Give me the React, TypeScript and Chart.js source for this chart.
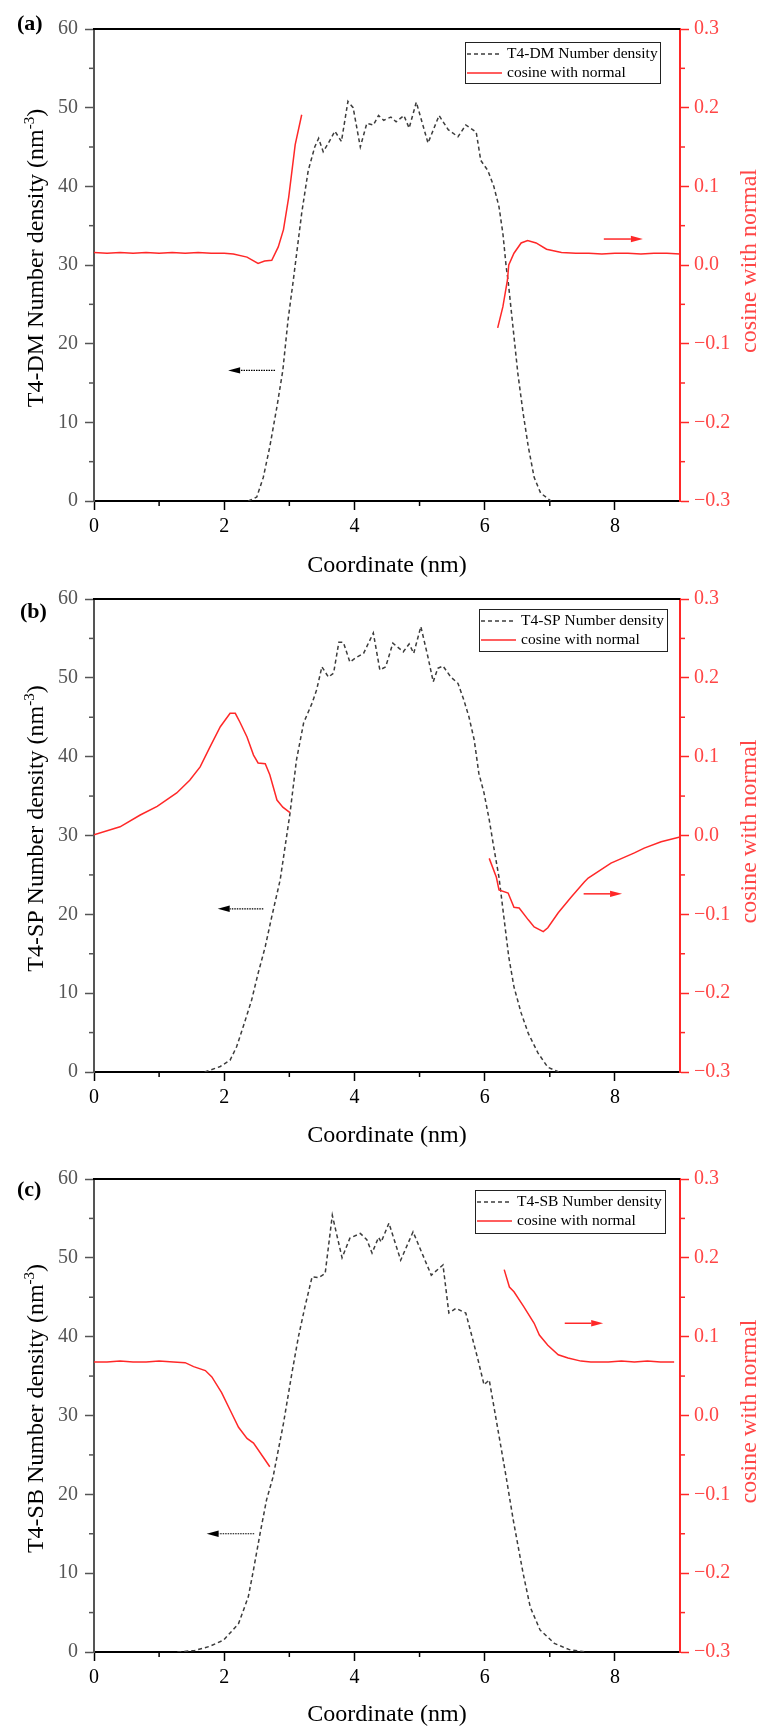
import React, { useEffect, useRef } from 'react';
import { Chart, registerables } from 'chart.js';

Chart.register(...registerables);

const SERIF = '"Liberation Serif", "Times New Roman", Times, serif';
const RED = 'rgb(255,40,40)';
const RED_TEXT = 'rgb(255,70,70)';
const DENS_COLOR = '#3c3c3c';

// ---- tick values ----
const xTicks = [0, 2, 4, 6, 8];
const xMinorTicks = [1, 3, 5, 7];
const yTicks = [0, 10, 20, 30, 40, 50, 60];
const yMinorTicks = [5, 15, 25, 35, 45, 55];
const y2Ticks = [-0.3, -0.2, -0.1, 0, 0.1, 0.2, 0.3];
const y2MinorTicks = [-0.25, -0.15, -0.05, 0.05, 0.15, 0.25];

// ---- panel (a) T4-DM ----
const aDensX = [2.37, 2.5, 2.6, 2.7, 2.81, 2.9, 2.98, 3.06, 3.19, 3.29, 3.39, 3.45, 3.52, 3.6, 3.7, 3.8, 3.9, 3.98, 4.09, 4.19, 4.29, 4.37, 4.45, 4.56, 4.64, 4.76, 4.84, 4.95, 5.13, 5.3, 5.44, 5.59, 5.71, 5.87, 5.94, 6.05, 6.14, 6.22, 6.28, 6.33, 6.36, 6.44, 6.51, 6.59, 6.67, 6.76, 6.86, 7.02];
const aDensY = [0, 0.5, 3, 6.9, 12, 16.6, 23, 28, 36.6, 42, 45, 46.1, 44.4, 45.5, 47, 45.7, 50.8, 50, 45, 48, 47.8, 49, 48.4, 48.8, 48.2, 49, 47.4, 50.7, 45.5, 49, 47.2, 46.3, 47.8, 46.9, 43.3, 42, 40, 37.4, 34, 29.8, 28, 21.7, 16.2, 11.2, 6.9, 3, 1, 0];
const aCosLX = [0, 0.2, 0.4, 0.6, 0.8, 1.0, 1.2, 1.4, 1.6, 1.8, 2.0, 2.14, 2.35, 2.52, 2.62, 2.73, 2.83, 2.91, 2.99, 3.09, 3.19];
const aCosLY = [0.016, 0.015, 0.016, 0.015, 0.016, 0.015, 0.016, 0.015, 0.016, 0.015, 0.015, 0.014, 0.010, 0.002, 0.005, 0.006, 0.023, 0.045, 0.086, 0.153, 0.191];
const aCosRX = [6.2, 6.28, 6.35, 6.37, 6.45, 6.56, 6.66, 6.79, 6.95, 7.18, 7.4, 7.6, 7.8, 8.0, 8.2, 8.4, 8.6, 8.8, 9.0];
const aCosRY = [-0.08, -0.053, -0.019, 0.0, 0.015, 0.028, 0.031, 0.028, 0.02, 0.016, 0.015, 0.015, 0.014, 0.015, 0.015, 0.014, 0.015, 0.015, 0.014];

// ---- panel (b) T4-SP ----
const bDensX = [1.7, 1.94, 2.09, 2.19, 2.29, 2.42, 2.52, 2.63, 2.73, 2.86, 3.01, 3.11, 3.22, 3.35, 3.42, 3.5, 3.6, 3.68, 3.76, 3.83, 3.93, 4.03, 4.14, 4.29, 4.39, 4.48, 4.59, 4.75, 4.84, 4.91, 5.02, 5.13, 5.21, 5.28, 5.36, 5.48, 5.59, 5.68, 5.76, 5.84, 5.91, 5.99, 6.07, 6.14, 6.22, 6.3, 6.37, 6.45, 6.56, 6.67, 6.82, 6.97, 7.14];
const bDensY = [0, 0.7, 1.5, 3.2, 5.7, 9.1, 12.5, 15.9, 19.7, 24.4, 32.8, 39.6, 44.3, 46.8, 48.5, 51.4, 50.1, 50.6, 54.5, 54.5, 52, 52.6, 53.1, 55.7, 51, 51.4, 54.4, 53.3, 54.3, 53.1, 56.5, 52.6, 49.5, 51.2, 51.5, 50.1, 49.3, 47.2, 45, 42.1, 37.9, 35.4, 32, 28.5, 24.7, 19.3, 14.6, 10.8, 7.5, 4.9, 2.4, 0.6, 0];
const bCosLX = [0, 0.4, 0.71, 0.97, 1.27, 1.47, 1.63, 1.78, 1.94, 2.09, 2.17, 2.24, 2.35, 2.45, 2.52, 2.63, 2.7, 2.81, 2.9, 3.01];
const bCosLY = [0.001, 0.011, 0.026, 0.037, 0.054, 0.07, 0.087, 0.112, 0.138, 0.155, 0.155, 0.144, 0.125, 0.102, 0.092, 0.091, 0.077, 0.045, 0.036, 0.029];
const bCosRX = [6.07, 6.18, 6.22, 6.36, 6.45, 6.53, 6.67, 6.76, 6.9, 6.97, 7.13, 7.33, 7.53, 7.59, 7.94, 8.3, 8.45, 8.71, 9.0];
const bCosRY = [-0.029, -0.053, -0.069, -0.073, -0.091, -0.092, -0.107, -0.116, -0.122, -0.117, -0.098, -0.078, -0.059, -0.054, -0.035, -0.022, -0.016, -0.008, -0.002];

// ---- panel (c) T4-SB ----
const cDensX = [1.28, 1.55, 1.77, 1.99, 2.22, 2.37, 2.44, 2.55, 2.65, 2.75, 2.91, 3.04, 3.14, 3.24, 3.35, 3.45, 3.55, 3.66, 3.81, 3.93, 4.09, 4.19, 4.27, 4.37, 4.41, 4.53, 4.71, 4.9, 5.18, 5.36, 5.45, 5.56, 5.71, 5.79, 5.9, 5.99, 6.07, 6.17, 6.33, 6.44, 6.59, 6.7, 6.85, 7.07, 7.3, 7.56];
const cDensY = [0, 0.2, 0.7, 1.5, 3.6, 7, 10, 15, 19.3, 22.2, 29, 35.4, 40, 43.8, 47.6, 47.5, 48, 55.4, 50, 52.5, 53.1, 52.3, 50.6, 52.6, 52, 54.4, 49.7, 53.3, 47.8, 49.1, 43, 43.6, 43, 40.5, 37, 33.9, 34.5, 29.8, 22.2, 16.7, 10, 5.7, 2.8, 1.1, 0.3, 0];
const cCosLX = [0, 0.2, 0.4, 0.6, 0.8, 1.0, 1.22, 1.4, 1.53, 1.71, 1.81, 1.96, 2.09, 2.22, 2.35, 2.45, 2.6, 2.7];
const cCosLY = [0.068, 0.068, 0.069, 0.068, 0.068, 0.069, 0.068, 0.067, 0.062, 0.057, 0.049, 0.029, 0.007, -0.015, -0.029, -0.035, -0.053, -0.065];
const cCosRX = [6.3, 6.38, 6.45, 6.6, 6.76, 6.84, 6.97, 7.13, 7.28, 7.48, 7.63, 7.9, 8.1, 8.3, 8.5, 8.7, 8.91];
const cCosRY = [0.185, 0.163, 0.157, 0.138, 0.117, 0.102, 0.089, 0.077, 0.073, 0.069, 0.068, 0.068, 0.069, 0.068, 0.069, 0.068, 0.068];

// ---- arrows [x tail, x head, value] ----
const aArrowDens = [2.78, 2.06, 16.6];
const aArrowCos = [7.83, 8.43, 0.033];
const bArrowDens = [2.6, 1.9, 20.7];
const bArrowCos = [7.52, 8.11, -0.074];
const cArrowDens = [2.46, 1.73, 15.0];
const cArrowCos = [7.23, 7.82, 0.117];

type Panel = {
  tag: string; densName: string; yTitle: string;
  densX: number[]; densY: number[];
  cos: { x: number[]; y: number[] }[];
  arrowDens: number[]; arrowCos: number[];
  top: number; height: number; plotH: number;
  legend: { x: number; y: number; w: number; h: number };
  tagPos: { x: number; y: number };
};

const panels: Panel[] = [
  {
    tag: '(a)', densName: 'T4-DM Number density', yTitle: 'T4-DM Number density (nm',
    densX: aDensX, densY: aDensY, cos: [{ x: aCosLX, y: aCosLY }, { x: aCosRX, y: aCosRY }],
    arrowDens: aArrowDens, arrowCos: aArrowCos,
    top: 0, height: 580, plotH: 472,
    legend: { x: 465, y: 42, w: 195, h: 41 }, tagPos: { x: 17, y: 24 },
  },
  {
    tag: '(b)', densName: 'T4-SP Number density', yTitle: 'T4-SP Number density (nm',
    densX: bDensX, densY: bDensY, cos: [{ x: bCosLX, y: bCosLY }, { x: bCosRX, y: bCosRY }],
    arrowDens: bArrowDens, arrowCos: bArrowCos,
    top: 570, height: 580, plotH: 473,
    legend: { x: 479, y: 39, w: 188, h: 42 }, tagPos: { x: 20, y: 42 },
  },
  {
    tag: '(c)', densName: 'T4-SB Number density', yTitle: 'T4-SB Number density (nm',
    densX: cDensX, densY: cDensY, cos: [{ x: cCosLX, y: cCosLY }, { x: cCosRX, y: cCosRY }],
    arrowDens: cArrowDens, arrowCos: cArrowCos,
    top: 1150, height: 579, plotH: 473,
    legend: { x: 475, y: 40, w: 190, h: 43 }, tagPos: { x: 17, y: 40 },
  },
];

const toPts = (xs: number[], ys: number[]) => xs.map((x, i) => ({ x, y: ys[i] }));

const fmtCos = (v: number) => {
  const r = Math.round(v * 10) / 10;
  if (r === 0) return '0.0';
  return r < 0 ? '\u2212' + Math.abs(r).toFixed(1) : r.toFixed(1);
};

function drawArrow(ctx: CanvasRenderingContext2D, x1: number, x2: number, y: number, color: string, dotted: boolean) {
  const dir = Math.sign(x2 - x1);
  const headLen = 12;
  const headHalf = 3.2;
  ctx.save();
  ctx.strokeStyle = color;
  ctx.fillStyle = color;
  ctx.lineWidth = dotted ? 1.2 : 1.5;
  ctx.setLineDash(dotted ? [1.5, 1] : []);
  ctx.beginPath();
  ctx.moveTo(x1, y);
  ctx.lineTo(x2 - dir * headLen, y);
  ctx.stroke();
  ctx.setLineDash([]);
  ctx.beginPath();
  ctx.moveTo(x2, y);
  ctx.lineTo(x2 - dir * headLen, y - headHalf);
  ctx.lineTo(x2 - dir * headLen, y + headHalf);
  ctx.closePath();
  ctx.fill();
  ctx.restore();
}

function drawVTitle(ctx: CanvasRenderingContext2D, text: string, sup: string, tail: string, cx: number, cy: number, color: string) {
  ctx.save();
  ctx.translate(cx, cy);
  ctx.rotate(-Math.PI / 2);
  const mainF = `24px ${SERIF}`;
  const supF = `15px ${SERIF}`;
  ctx.font = mainF;
  const w1 = ctx.measureText(text).width;
  const w3 = tail ? ctx.measureText(tail).width : 0;
  ctx.font = supF;
  const w2 = sup ? ctx.measureText(sup).width : 0;
  let x = -(w1 + w2 + w3) / 2;
  const base = 8;
  ctx.fillStyle = color;
  ctx.textAlign = 'left';
  ctx.textBaseline = 'alphabetic';
  ctx.font = mainF;
  ctx.fillText(text, x, base);
  x += w1;
  if (sup) {
    ctx.font = supF;
    ctx.fillText(sup, x, base - 9);
    x += w2;
  }
  if (tail) {
    ctx.font = mainF;
    ctx.fillText(tail, x, base);
  }
  ctx.restore();
}

function makeConfig(p: Panel): any {
  const decor = {
    id: 'decor' + p.tag,
    afterDraw(chart: any) {
      const { ctx, chartArea } = chart;
      const { left, top, right, bottom } = chartArea;
      const sx = chart.scales.x;
      const sy = chart.scales.y;
      const sy2 = chart.scales.y2;
      ctx.save();
      // top frame
      ctx.strokeStyle = '#000';
      ctx.lineWidth = 2;
      ctx.beginPath();
      ctx.moveTo(left - 1, top);
      ctx.lineTo(right, top);
      ctx.stroke();
      // minor ticks
      ctx.lineWidth = 1.5;
      ctx.strokeStyle = '#555';
      yMinorTicks.forEach((v) => {
        const py = sy.getPixelForValue(v);
        ctx.beginPath(); ctx.moveTo(left - 5, py); ctx.lineTo(left, py); ctx.stroke();
      });
      ctx.strokeStyle = RED;
      y2MinorTicks.forEach((v) => {
        const py = sy2.getPixelForValue(v);
        ctx.beginPath(); ctx.moveTo(right, py); ctx.lineTo(right + 5, py); ctx.stroke();
      });
      ctx.strokeStyle = '#000';
      xMinorTicks.forEach((v) => {
        const px = sx.getPixelForValue(v);
        ctx.beginPath(); ctx.moveTo(px, bottom); ctx.lineTo(px, bottom + 5); ctx.stroke();
      });
      // arrows
      drawArrow(ctx, sx.getPixelForValue(p.arrowDens[0]), sx.getPixelForValue(p.arrowDens[1]), sy.getPixelForValue(p.arrowDens[2]), '#000', true);
      drawArrow(ctx, sx.getPixelForValue(p.arrowCos[0]), sx.getPixelForValue(p.arrowCos[1]), sy2.getPixelForValue(p.arrowCos[2]), RED, false);
      // legend
      const L = p.legend;
      ctx.fillStyle = '#fff';
      ctx.fillRect(L.x, L.y, L.w, L.h);
      ctx.strokeStyle = '#222';
      ctx.lineWidth = 1;
      ctx.strokeRect(L.x + 0.5, L.y + 0.5, L.w, L.h);
      const r1 = L.y + 12, r2 = L.y + 31;
      ctx.lineWidth = 1.5;
      ctx.strokeStyle = DENS_COLOR;
      ctx.setLineDash([4, 3]);
      ctx.beginPath(); ctx.moveTo(L.x + 2, r1); ctx.lineTo(L.x + 37, r1); ctx.stroke();
      ctx.setLineDash([]);
      ctx.strokeStyle = RED;
      ctx.beginPath(); ctx.moveTo(L.x + 2, r2); ctx.lineTo(L.x + 37, r2); ctx.stroke();
      ctx.fillStyle = '#000';
      ctx.font = `15.5px ${SERIF}`;
      ctx.textAlign = 'left';
      ctx.textBaseline = 'middle';
      ctx.fillText(p.densName, L.x + 42, r1);
      ctx.fillText('cosine with normal', L.x + 42, r2);
      // panel tag
      ctx.font = `bold 22px ${SERIF}`;
      ctx.fillText(p.tag, p.tagPos.x, p.tagPos.y);
      ctx.restore();
      // axis titles
      const cy = (top + bottom) / 2;
      drawVTitle(ctx, p.yTitle, '-3', ')', 35, cy - 7, '#000');
      drawVTitle(ctx, 'cosine with normal', '', '', 748, cy - 4, RED_TEXT);
    },
  };

  const tickFont = { family: SERIF, size: 20 };

  return {
    type: 'line',
    data: {
      datasets: [
        ...p.cos.map((seg) => ({
          label: 'cosine with normal',
          data: toPts(seg.x, seg.y),
          yAxisID: 'y2',
          borderColor: RED,
          borderWidth: 1.5,
          pointRadius: 0,
          fill: false,
          tension: 0,
        })),
        {
          label: p.densName,
          data: toPts(p.densX, p.densY),
          yAxisID: 'y',
          borderColor: DENS_COLOR,
          borderWidth: 1.5,
          borderDash: [4, 3],
          pointRadius: 0,
          fill: false,
          tension: 0,
        },
      ],
    },
    options: {
      responsive: false,
      maintainAspectRatio: false,
      animation: false,
      events: [],
      layout: { padding: { top: 29, left: 0, right: 0, bottom: 0 } },
      plugins: { legend: { display: false }, tooltip: { enabled: false } },
      scales: {
        x: {
          type: 'linear',
          position: 'bottom',
          min: 0,
          max: 9,
          afterBuildTicks: (s: any) => { s.ticks = xTicks.map((v) => ({ value: v })); },
          afterFit: (s: any) => { s.height = p.height - 29 - p.plotH; },
          ticks: { color: '#000', font: tickFont, padding: 5, maxRotation: 0, autoSkip: false, callback: (v: any) => String(v) },
          grid: { display: true, drawOnChartArea: false, drawTicks: true, tickLength: 9, tickColor: '#000', tickWidth: 1.5 },
          border: { display: true, color: '#000', width: 2 },
          title: { display: true, text: 'Coordinate (nm)', color: '#000', font: { family: SERIF, size: 24 }, padding: { top: 0, bottom: 0 } },
        },
        y: {
          type: 'linear',
          position: 'left',
          min: 0,
          max: 60,
          afterBuildTicks: (s: any) => { s.ticks = yTicks.map((v) => ({ value: v })); },
          afterFit: (s: any) => { s.width = 94; },
          ticks: { color: '#555', font: tickFont, padding: 7, autoSkip: false, callback: (v: any) => String(v) },
          grid: { display: true, drawOnChartArea: false, drawTicks: true, tickLength: 9, tickColor: '#555', tickWidth: 1.5 },
          border: { display: true, color: '#555', width: 2 },
          title: { display: false },
        },
        y2: {
          type: 'linear',
          position: 'right',
          min: -0.3,
          max: 0.3,
          afterBuildTicks: (s: any) => { s.ticks = y2Ticks.map((v) => ({ value: v })); },
          afterFit: (s: any) => { s.width = 82; },
          ticks: { color: RED_TEXT, font: tickFont, padding: 5, autoSkip: false, callback: (v: any) => fmtCos(Number(v)) },
          grid: { display: true, drawOnChartArea: false, drawTicks: true, tickLength: 9, tickColor: RED, tickWidth: 1.5 },
          border: { display: true, color: RED, width: 2 },
          title: { display: false },
        },
      },
    },
    plugins: [decor],
  };
}

function PanelChart({ panel }: { panel: Panel }) {
  const ref = useRef<HTMLCanvasElement | null>(null);
  useEffect(() => {
    if (!ref.current) return;
    const chart = new Chart(ref.current, makeConfig(panel));
    return () => chart.destroy();
  }, [panel]);
  return (
    <canvas
      ref={ref}
      width={762}
      height={panel.height}
      style={{ position: 'absolute', left: 0, top: panel.top, width: 762, height: panel.height }}
    />
  );
}

export default function App() {
  return (
    <div style={{ position: 'absolute', left: 0, top: 0, width: 762, height: 1729, overflow: 'hidden', background: '#fff' }}>
      {panels.map((p) => (
        <PanelChart key={p.tag} panel={p} />
      ))}
    </div>
  );
}
